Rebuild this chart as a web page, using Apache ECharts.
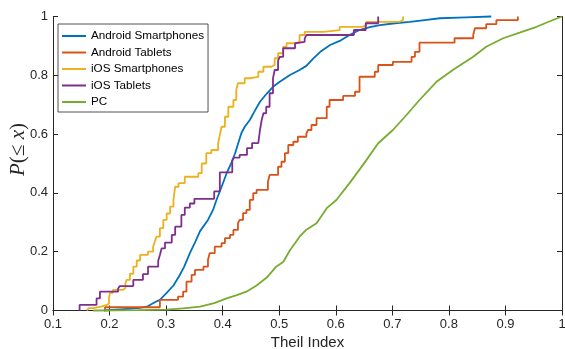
<!DOCTYPE html>
<html>
<head>
<meta charset="utf-8">
<script src="https://cdn.jsdelivr.net/npm/echarts@6/dist/echarts.min.js"></script>
<style>html,body{margin:0;padding:0;background:#fff}#c{width:565px;height:349px}</style>
</head>
<body>
<div id="c"></div>
<script>
const seriesNames = ['Android Smartphones', 'Android Tablets', 'iOS Smartphones', 'iOS Tablets', 'PC'];
const xTicks = [0.1, 0.2, 0.3, 0.4, 0.5, 0.6, 0.7, 0.8, 0.9, 1];
const yTicks = [0, 0.2, 0.4, 0.6, 0.8, 1];

const androidSmartphones = [[0.19,0],[0.22,0.004],[0.25,0.008],[0.266,0.013],[0.28,0.028],[0.289,0.036],[0.301,0.06],[0.313,0.085],[0.324,0.12],[0.332,0.149],[0.342,0.195],[0.352,0.235],[0.36,0.27],[0.374,0.308],[0.383,0.342],[0.389,0.376],[0.398,0.42],[0.407,0.467],[0.415,0.5],[0.422,0.535],[0.433,0.603],[0.439,0.625],[0.448,0.648],[0.457,0.68],[0.466,0.71],[0.478,0.738],[0.489,0.761],[0.501,0.778],[0.519,0.801],[0.536,0.818],[0.548,0.832],[0.56,0.857],[0.574,0.882],[0.59,0.903],[0.607,0.917],[0.625,0.938],[0.642,0.954],[0.66,0.964],[0.678,0.971],[0.705,0.977],[0.731,0.982],[0.757,0.988],[0.784,0.994],[0.83,0.997],[0.875,1.0]];

const androidTablets = [[0.192,0],[0.192,0.011],[0.289,0.036],[0.321,0.047],[0.33,0.064],[0.336,0.098],[0.345,0.121],[0.351,0.138],[0.366,0.149],[0.374,0.172],[0.377,0.195],[0.386,0.217],[0.398,0.229],[0.404,0.246],[0.413,0.257],[0.419,0.274],[0.427,0.297],[0.43,0.308],[0.436,0.331],[0.442,0.342],[0.448,0.376],[0.454,0.399],[0.46,0.41],[0.48,0.438],[0.483,0.461],[0.498,0.489],[0.504,0.506],[0.51,0.535],[0.516,0.563],[0.525,0.574],[0.533,0.591],[0.548,0.602],[0.551,0.614],[0.557,0.631],[0.566,0.654],[0.584,0.693],[0.589,0.716],[0.613,0.73],[0.634,0.744],[0.642,0.795],[0.669,0.812],[0.675,0.835],[0.701,0.846],[0.734,0.863],[0.74,0.88],[0.748,0.911],[0.81,0.926],[0.843,0.937],[0.846,0.96],[0.866,0.974],[0.884,0.988],[0.922,1.0]];

const iosSmartphones = [[0.16,0],[0.163,0.008],[0.171,0.013],[0.185,0.019],[0.195,0.024],[0.199,0.045],[0.201,0.06],[0.206,0.07],[0.224,0.076],[0.228,0.092],[0.23,0.104],[0.236,0.125],[0.242,0.149],[0.248,0.17],[0.254,0.189],[0.268,0.2],[0.277,0.217],[0.28,0.234],[0.283,0.251],[0.289,0.28],[0.295,0.308],[0.301,0.33],[0.307,0.353],[0.313,0.376],[0.316,0.421],[0.322,0.433],[0.333,0.455],[0.357,0.467],[0.363,0.5],[0.371,0.535],[0.38,0.546],[0.392,0.569],[0.395,0.597],[0.398,0.625],[0.404,0.659],[0.41,0.693],[0.419,0.716],[0.424,0.75],[0.427,0.773],[0.439,0.79],[0.448,0.795],[0.463,0.812],[0.472,0.829],[0.486,0.835],[0.492,0.858],[0.498,0.875],[0.507,0.897],[0.513,0.909],[0.531,0.914],[0.536,0.937],[0.545,0.948],[0.578,0.954],[0.607,0.965],[0.648,0.971],[0.654,0.982],[0.713,0.988],[0.719,1.0]];

const iosTablets = [[0.147,0],[0.147,0.019],[0.177,0.041],[0.183,0.064],[0.215,0.074],[0.218,0.083],[0.242,0.104],[0.259,0.124],[0.268,0.149],[0.286,0.169],[0.289,0.189],[0.292,0.211],[0.298,0.231],[0.31,0.257],[0.316,0.285],[0.327,0.325],[0.333,0.35],[0.342,0.364],[0.35,0.38],[0.385,0.405],[0.395,0.47],[0.417,0.51],[0.42,0.52],[0.43,0.529],[0.443,0.552],[0.452,0.569],[0.463,0.574],[0.466,0.614],[0.469,0.648],[0.472,0.671],[0.477,0.693],[0.483,0.739],[0.489,0.79],[0.492,0.818],[0.498,0.85],[0.501,0.863],[0.507,0.892],[0.528,0.909],[0.531,0.914],[0.545,0.925],[0.548,0.937],[0.632,0.954],[0.653,0.977],[0.675,1.0]];

const pc = [[0.171,0],[0.25,0.001],[0.301,0.003],[0.33,0.007],[0.36,0.013],[0.385,0.025],[0.407,0.041],[0.425,0.052],[0.442,0.064],[0.46,0.085],[0.478,0.112],[0.495,0.15],[0.507,0.165],[0.519,0.205],[0.536,0.251],[0.548,0.275],[0.566,0.297],[0.584,0.348],[0.601,0.376],[0.625,0.435],[0.651,0.503],[0.675,0.569],[0.701,0.614],[0.725,0.665],[0.748,0.716],[0.778,0.778],[0.807,0.818],[0.843,0.863],[0.866,0.897],[0.896,0.926],[0.925,0.945],[0.955,0.965],[0.984,0.988],[1.0,1.0]];

const colors = ['#0072BD', '#D95319', '#EDB120', '#7E2F8E', '#77AC30'];
const dataSets = [androidSmartphones, androidTablets, iosSmartphones, iosTablets, pc];
const stepped = [false, 'end', 'end', 'end', false];

const axisColor = '#262626';
const fmt = v => String(+(+v).toFixed(2));

const chart = echarts.init(document.getElementById('c'), null, {renderer: 'canvas'});
const baseX = {
  type: 'value', min: xTicks[0], max: xTicks[xTicks.length - 1], interval: 0.1,
  axisLine: {show: true, lineStyle: {color: axisColor, width: 1}},
  axisTick: {show: true, inside: true, length: 5, lineStyle: {color: axisColor, width: 1}},
  splitLine: {show: false}
};
const baseY = {
  type: 'value', min: yTicks[0], max: yTicks[yTicks.length - 1], interval: 0.2,
  axisLine: {show: true, lineStyle: {color: axisColor, width: 1}},
  axisTick: {show: true, inside: true, length: 5, lineStyle: {color: axisColor, width: 1}},
  splitLine: {show: false}
};
chart.setOption({
  animation: false,
  backgroundColor: '#fff',
  grid: {left: 53, right: 3, top: 16.5, bottom: 38.5, containLabel: false, outerBoundsMode: 'none'},
  legend: {
    orient: 'vertical', left: 58, top: 24,
    data: seriesNames.map(n => ({name: n, icon: 'rect'})),
    itemWidth: 24, itemHeight: 2, itemGap: 2.5,
    padding: [5, 4, 3, 4],
    backgroundColor: '#fff', borderColor: axisColor, borderWidth: 0.8,
    textStyle: {fontFamily: 'Liberation Sans', fontSize: 11.7, color: '#000', lineHeight: 14}
  },
  xAxis: [
    Object.assign({}, baseX, {
      position: 'bottom',
      axisLabel: {margin: 7, fontFamily: 'Liberation Sans', fontSize: 13, color: axisColor, formatter: fmt},
      name: 'Theil Index', nameLocation: 'middle', nameGap: 20,
      nameTextStyle: {fontFamily: 'Liberation Sans', fontSize: 15, color: axisColor}
    }),
    Object.assign({}, baseX, {position: 'top', axisLabel: {show: false}})
  ],
  yAxis: [
    Object.assign({}, baseY, {
      position: 'left',
      axisLabel: {margin: 5, fontFamily: 'Liberation Sans', fontSize: 13, color: axisColor, formatter: fmt},
      name: '{i|P}(≤ {i|x})', nameLocation: 'middle', nameGap: 25, nameMoveOverlap: false,
      nameTextStyle: {fontFamily: 'Liberation Serif', fontSize: 21, color: axisColor, padding: [0, 0, 0, 28], lineHeight: 20,
        rich: {i: {fontFamily: 'Liberation Serif', fontStyle: 'italic', fontSize: 21, color: axisColor, lineHeight: 20}}}
    }),
    Object.assign({}, baseY, {position: 'right', axisLabel: {show: false}})
  ],
  series: seriesNames.map((n, i) => ({
    name: n, type: 'line', data: dataSets[i], step: stepped[i],
    symbol: 'none', showSymbol: false, smooth: false,
    xAxisIndex: 0, yAxisIndex: 0,
    lineStyle: {color: colors[i], width: 1.8},
    itemStyle: {color: colors[i]},
    clip: false
  }))
});
</script>
</body>
</html>
